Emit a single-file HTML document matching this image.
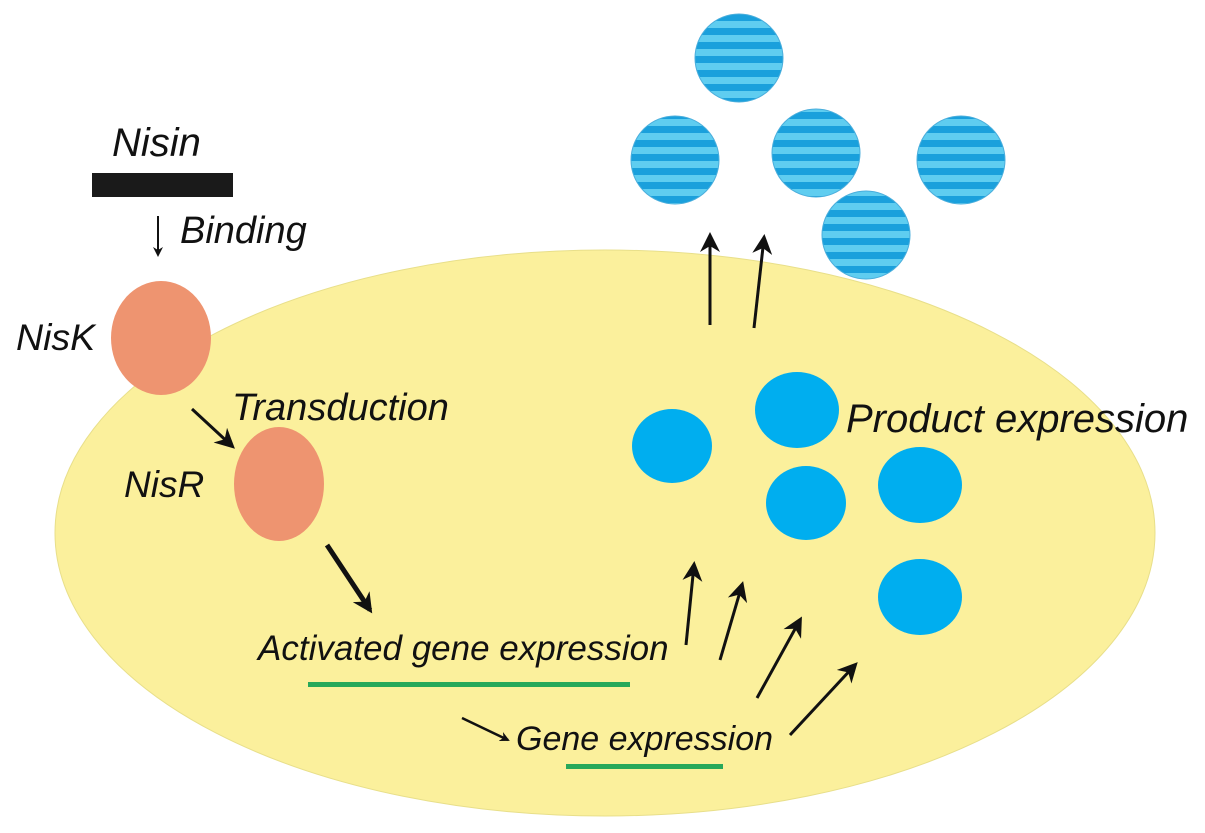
<!DOCTYPE html>
<html><head><style>body{margin:0;background:#fff}svg{display:block}text{font-family:"Liberation Sans",sans-serif;font-style:italic;fill:#111}</style></head>
<body>
<svg width="1205" height="833" viewBox="0 0 1205 833">
<defs>
<pattern id="st" width="20" height="14" patternUnits="userSpaceOnUse"><rect width="20" height="14" fill="#1aa0dc"/><rect y="7" width="20" height="7" fill="#5fcdf0"/></pattern>
<marker id="ah" markerWidth="10" markerHeight="10" refX="8" refY="5" orient="auto" markerUnits="userSpaceOnUse" viewBox="0 0 10 10"><path d="M0,0 L10,5 L0,10 L3,5 z" fill="#111"/></marker>
<marker id="ah2" markerWidth="20" markerHeight="20" refX="16" refY="10" orient="auto" markerUnits="userSpaceOnUse" viewBox="0 0 20 20"><path d="M0,0 L20,10 L0,20 L6,10 z" fill="#111"/></marker>
</defs>
<ellipse cx="605" cy="533" rx="550" ry="283" fill="#fbf09c" stroke="#e8df8a"/>
<g fill="url(#st)" stroke="#4aaedc" stroke-width="1">
<circle cx="739" cy="58" r="44"/><circle cx="675" cy="160" r="44"/><circle cx="816" cy="153" r="44"/><circle cx="961" cy="160" r="44"/><circle cx="866" cy="235" r="44"/>
</g>
<g fill="#00aeef">
<ellipse cx="672" cy="446" rx="40" ry="37"/><ellipse cx="797" cy="410" rx="42" ry="38"/><ellipse cx="806" cy="503" rx="40" ry="37"/><ellipse cx="920" cy="485" rx="42" ry="38"/><ellipse cx="920" cy="597" rx="42" ry="38"/>
</g>
<g fill="#ee9470"><ellipse cx="161" cy="338" rx="50" ry="57"/><ellipse cx="279" cy="484" rx="45" ry="57"/></g>
<rect x="92" y="173" width="141" height="24" fill="#1a1a1a"/>
<g stroke="#111" stroke-width="3" fill="none" marker-end="url(#ah2)">
<line x1="710" y1="325" x2="710" y2="236"/><line x1="754" y1="328" x2="764" y2="238"/>
<line x1="686" y1="645" x2="694" y2="565"/><line x1="720" y1="660" x2="742" y2="585"/>
<line x1="757" y1="698" x2="800" y2="620"/><line x1="790" y1="735" x2="855" y2="665"/>
</g>
<line x1="158" y1="216" x2="158" y2="255" stroke="#111" stroke-width="2" marker-end="url(#ah)"/>
<line x1="192" y1="409" x2="232" y2="446" stroke="#111" stroke-width="3" marker-end="url(#ah2)"/>
<line x1="327" y1="545" x2="370" y2="610" stroke="#111" stroke-width="5" marker-end="url(#ah2)"/>
<line x1="462" y1="718" x2="508" y2="740" stroke="#111" stroke-width="2.5" marker-end="url(#ah)"/>
<rect x="308" y="682" width="322" height="5" fill="#27a85a"/>
<rect x="566" y="764" width="157" height="5" fill="#27a85a"/>
<text x="112" y="156" font-size="40">Nisin</text>
<text x="180" y="243" font-size="38">Binding</text>
<text x="16" y="350" font-size="37.5">NisK</text>
<text x="232" y="420" font-size="38">Transduction</text>
<text x="124" y="497" font-size="37">NisR</text>
<text x="846" y="432" font-size="40">Product expression</text>
<text x="258" y="660" font-size="35">Activated gene expression</text>
<text x="516" y="750" font-size="34">Gene expression</text>
</svg>
</body></html>
